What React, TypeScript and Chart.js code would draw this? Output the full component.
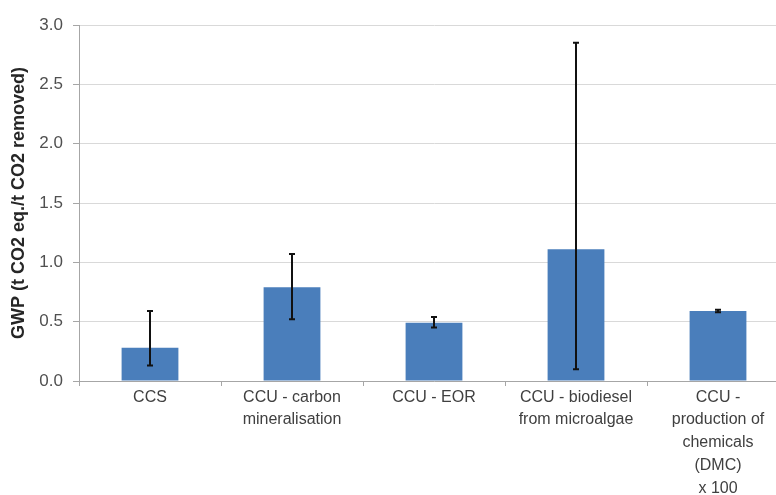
import React, { useEffect, useRef } from "react";
import { Chart, registerables } from "chart.js";

Chart.register(...registerables);

const categories: string[][] = [
  ["CCS"],
  ["CCU - carbon", "mineralisation"],
  ["CCU - EOR"],
  ["CCU - biodiesel", "from microalgae"],
  ["CCU -", "production of", "chemicals", "(DMC)", "x 100"],
];
const gwpValues = [0.28, 0.79, 0.49, 1.11, 0.59];
const errorLow = [0.13, 0.52, 0.45, 0.1, 0.58];
const errorHigh = [0.59, 1.07, 0.54, 2.85, 0.6];
const yTicks = [0, 0.5, 1.0, 1.5, 2.0, 2.5, 3.0];
const yTitle = "GWP (t CO2 eq./t CO2 removed)";

const FONT = "'Liberation Sans', Arial, sans-serif";

const errorBarPlugin = {
  id: "errorBars",
  afterDatasetsDraw(chart: any) {
    const meta = chart.getDatasetMeta(0);
    const yScale = chart.scales.y;
    const ctx = chart.ctx;
    ctx.save();
    ctx.strokeStyle = "#111111";
    ctx.lineWidth = 2;
    meta.data.forEach((bar: any, i: number) => {
      const x = bar.x;
      const yTop = yScale.getPixelForValue(errorHigh[i]);
      const yBot = yScale.getPixelForValue(errorLow[i]);
      ctx.beginPath();
      ctx.moveTo(x, yTop);
      ctx.lineTo(x, yBot);
      ctx.moveTo(x - 3, yTop);
      ctx.lineTo(x + 3, yTop);
      ctx.moveTo(x - 3, yBot);
      ctx.lineTo(x + 3, yBot);
      ctx.stroke();
    });
    ctx.restore();
  },
};

export default function App() {
  const ref = useRef<HTMLCanvasElement | null>(null);
  useEffect(() => {
    if (!ref.current) return;
    const chart = new Chart(ref.current, {
      type: "bar",
      data: {
        labels: categories,
        datasets: [
          {
            data: gwpValues,
            backgroundColor: "#4a7ebb",
            borderWidth: 0,
            barPercentage: 0.4,
            categoryPercentage: 1,
          },
        ],
      },
      options: {
        animation: false,
        responsive: false,
        maintainAspectRatio: false,
        layout: { padding: { top: 25, left: 0, right: 11, bottom: 0 } },
        plugins: { legend: { display: false }, tooltip: { enabled: false } },
        scales: {
          x: {
            afterFit: (s: any) => {
              s.height = 114;
            },
            grid: {
              display: true,
              drawOnChartArea: false,
              drawTicks: true,
              tickLength: 5,
              color: "#a6a6a6",
              offset: true,
            },
            border: { display: true, color: "#a6a6a6", width: 1 },
            ticks: {
              color: "#404040",
              font: { family: FONT, size: 16, lineHeight: 1.42 },
              padding: 0,
              maxRotation: 0,
              autoSkip: false,
            },
          },
          y: {
            min: 0,
            max: 3,
            afterFit: (s: any) => {
              s.width = 79;
            },
            afterBuildTicks: (s: any) => {
              s.ticks = yTicks.map((v) => ({ value: v }));
            },
            grid: {
              color: "#d9d9d9",
              lineWidth: 1,
              drawTicks: true,
              tickLength: 6,
              tickColor: "#a6a6a6",
            },
            border: { display: true, color: "#a6a6a6", width: 1 },
            ticks: {
              color: "#505050",
              font: { family: FONT, size: 17 },
              padding: 10,
              callback: (v: any) => Number(v).toFixed(1),
            },
            title: {
              display: true,
              text: yTitle,
              color: "#262626",
              font: { family: FONT, size: 18, weight: "bold" },
              padding: { top: 8, bottom: 0 },
            },
          },
        },
      },
      plugins: [errorBarPlugin],
    });
    return () => chart.destroy();
  }, []);
  return (
    <div
      style={{
        position: "fixed",
        left: 0,
        top: 0,
        width: 776,
        height: 495,
        overflow: "hidden",
        background: "#ffffff",
      }}
    >
      <div style={{ width: 800, height: 495 }}>
        <canvas ref={ref} width={800} height={495} style={{ display: "block" }} />
      </div>
    </div>
  );
}
